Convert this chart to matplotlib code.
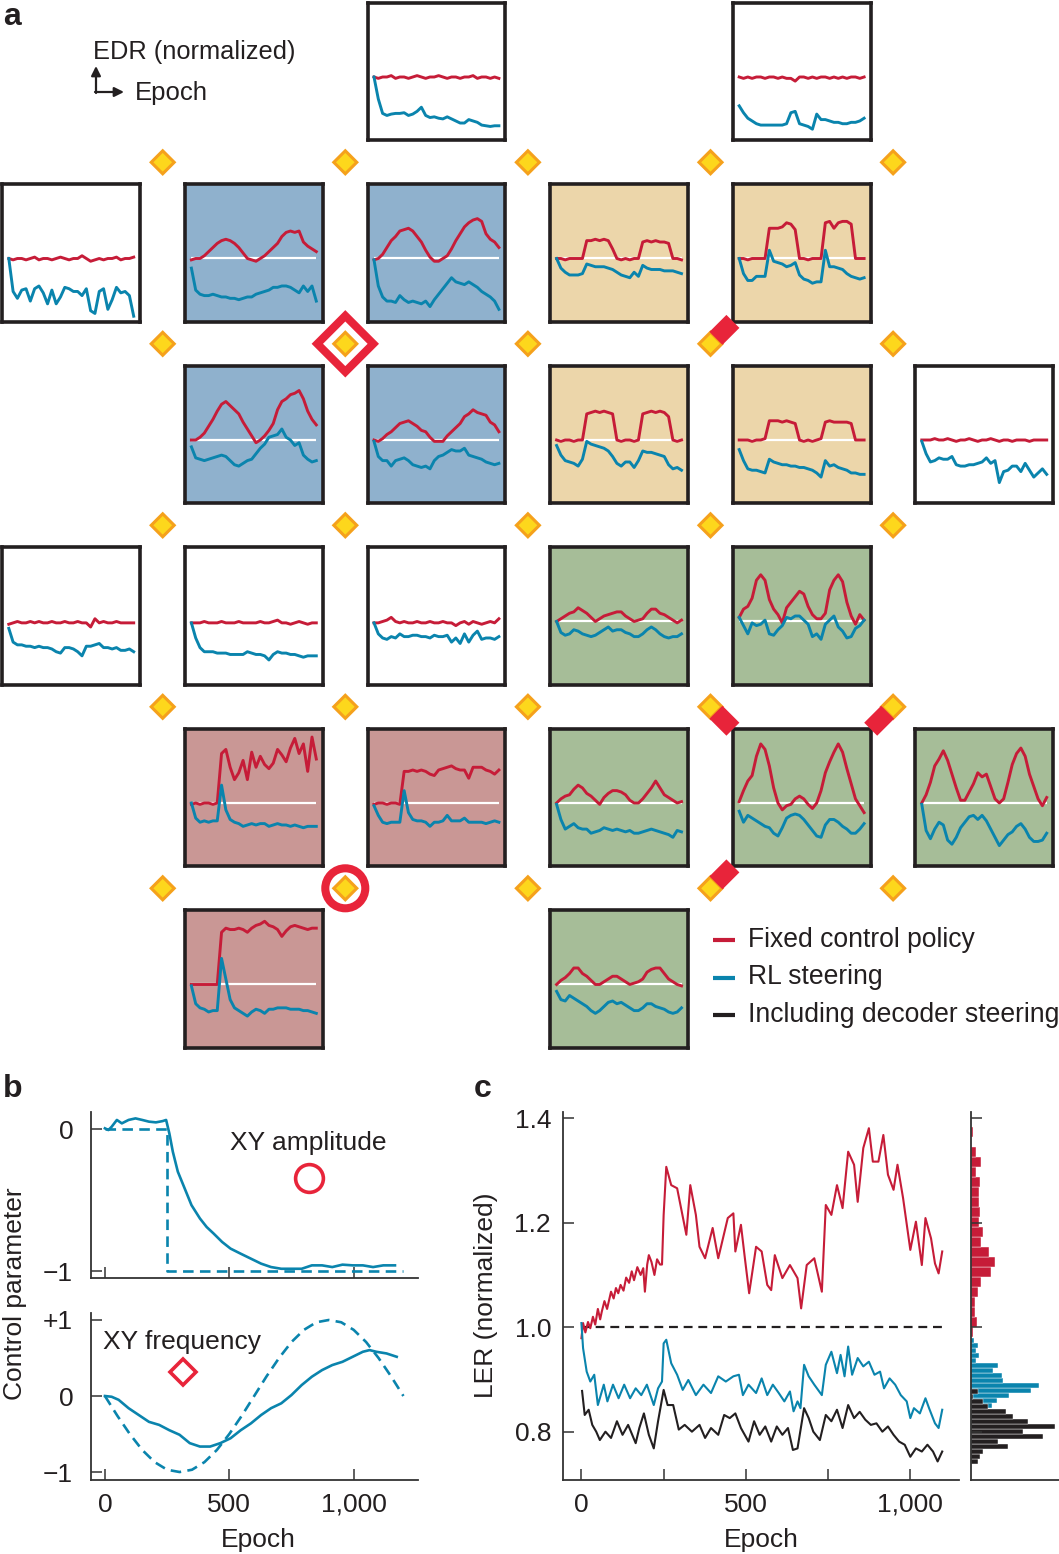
import numpy as np
import matplotlib
matplotlib.use("Agg")
import matplotlib.pyplot as plt
from matplotlib.patches import Polygon, Circle

plt.rcParams['font.family'] = ['Liberation Sans', 'DejaVu Sans']
plt.rcParams['font.size'] = 19

RED = '#c61c38'
BLUE = '#0a84ad'
BLACK = '#231f20'
MARK_RED = '#e8243a'
ORANGE = '#f5a11c'
YELLOW = '#fdd71c'
FACE = {'w': 'white', 'b': '#8fb1cd', 't': '#ecd6aa', 'g': '#a6bd98', 'p': '#c99795'}

# ---------------- panel a: EDR traces per tile (fixed policy / RL steering)
t02_red = [1.0, 0.99, 1.0, 1.0, 1.01, 0.99, 1.0, 1.0, 0.99, 1.0, 1.01, 1.0, 0.99, 1.0, 1.0, 1.01, 1.0, 0.99, 1.0, 1.0, 0.99, 1.0, 1.0, 1.01, 0.99, 1.0, 1.0, 0.99, 1.0, 0.99]
t02_rl = [1.0, 0.84, 0.735, 0.72, 0.73, 0.735, 0.735, 0.74, 0.72, 0.73, 0.75, 0.78, 0.72, 0.705, 0.71, 0.70, 0.695, 0.71, 0.695, 0.68, 0.665, 0.665, 0.69, 0.68, 0.67, 0.65, 0.645, 0.64, 0.645, 0.645]
t04_red = [1.0, 0.99, 1.0, 0.99, 1.0, 1.0, 0.99, 1.0, 1.0, 0.99, 1.0, 0.99, 0.99, 0.97, 1.0, 1.0, 0.99, 1.0, 0.99, 1.0, 1.0, 0.99, 1.0, 0.99, 1.0, 0.99, 1.0, 1.0, 0.99, 1.0]
t04_rl = [0.79, 0.74, 0.70, 0.68, 0.66, 0.65, 0.65, 0.65, 0.65, 0.65, 0.65, 0.66, 0.74, 0.75, 0.66, 0.65, 0.64, 0.62, 0.73, 0.69, 0.69, 0.68, 0.67, 0.67, 0.66, 0.66, 0.67, 0.67, 0.68, 0.70]
t10_red = [1.0, 0.99, 1.0, 1.0, 0.99, 1.0, 1.01, 0.99, 1.0, 1.0, 0.99, 1.0, 1.01, 1.0, 0.99, 1.0, 1.0, 1.02, 1.0, 0.98, 0.99, 1.0, 0.99, 1.0, 1.0, 1.01, 0.99, 1.0, 1.0, 1.01]
t10_rl = [1.0, 0.76, 0.71, 0.77, 0.78, 0.69, 0.78, 0.80, 0.75, 0.67, 0.77, 0.67, 0.72, 0.79, 0.78, 0.76, 0.76, 0.73, 0.78, 0.62, 0.60, 0.76, 0.78, 0.63, 0.70, 0.79, 0.75, 0.76, 0.73, 0.58]
t11_red = [0.99, 1.00, 1.00, 1.02, 1.05, 1.08, 1.11, 1.13, 1.14, 1.13, 1.11, 1.08, 1.04, 1.00, 0.99, 0.98, 1.00, 1.02, 1.05, 1.08, 1.11, 1.16, 1.19, 1.20, 1.19, 1.20, 1.12, 1.09, 1.07, 1.05]
t11_rl = [0.93, 0.77, 0.74, 0.73, 0.73, 0.74, 0.73, 0.72, 0.72, 0.71, 0.71, 0.70, 0.71, 0.72, 0.72, 0.74, 0.75, 0.76, 0.77, 0.79, 0.79, 0.80, 0.80, 0.79, 0.77, 0.75, 0.80, 0.76, 0.80, 0.69]
t12_red = [0.99, 1.00, 1.03, 1.08, 1.13, 1.16, 1.20, 1.21, 1.22, 1.20, 1.16, 1.12, 1.06, 1.01, 0.98, 0.98, 1.00, 1.02, 1.07, 1.13, 1.18, 1.23, 1.26, 1.28, 1.29, 1.27, 1.18, 1.14, 1.12, 1.08]
t12_rl = [0.99, 0.80, 0.72, 0.69, 0.69, 0.68, 0.73, 0.70, 0.68, 0.69, 0.68, 0.67, 0.69, 0.65, 0.70, 0.74, 0.78, 0.82, 0.86, 0.83, 0.82, 0.81, 0.83, 0.81, 0.79, 0.76, 0.74, 0.72, 0.69, 0.63]
t13_red = [1.0, 1.0, 0.99, 1.0, 1.0, 1.0, 1.0, 1.13, 1.13, 1.14, 1.13, 1.14, 1.13, 1.07, 1.0, 0.99, 1.0, 0.99, 1.0, 1.0, 1.12, 1.13, 1.12, 1.13, 1.12, 1.12, 1.11, 1.0, 1.0, 0.99]
t13_rl = [1.0, 0.93, 0.90, 0.88, 0.88, 0.88, 0.89, 0.96, 0.95, 0.94, 0.94, 0.94, 0.93, 0.92, 0.90, 0.88, 0.87, 0.86, 0.90, 0.87, 0.95, 0.93, 0.92, 0.92, 0.92, 0.91, 0.91, 0.91, 0.90, 0.89]
t14_red = [1.0, 1.0, 0.99, 1.0, 1.0, 1.0, 1.0, 1.22, 1.22, 1.22, 1.23, 1.26, 1.25, 1.21, 1.0, 1.0, 0.99, 1.0, 1.0, 1.0, 1.26, 1.27, 1.22, 1.26, 1.27, 1.27, 1.25, 1.0, 1.0, 1.0]
t14_rl = [1.0, 0.89, 0.84, 0.84, 0.87, 0.87, 0.87, 1.06, 0.98, 0.97, 0.96, 0.94, 0.95, 0.97, 0.88, 0.85, 0.84, 0.82, 0.83, 0.83, 1.06, 0.94, 0.94, 0.93, 0.92, 0.89, 0.87, 0.86, 0.85, 0.86]
t21_red = [1.0, 1.0, 1.02, 1.05, 1.10, 1.15, 1.21, 1.26, 1.28, 1.25, 1.22, 1.19, 1.13, 1.08, 1.03, 0.98, 1.0, 1.03, 1.07, 1.12, 1.22, 1.28, 1.30, 1.33, 1.34, 1.36, 1.30, 1.21, 1.15, 1.11]
t21_rl = [0.95, 0.87, 0.86, 0.85, 0.86, 0.87, 0.88, 0.89, 0.88, 0.85, 0.82, 0.81, 0.83, 0.85, 0.86, 0.90, 0.94, 0.97, 1.02, 1.03, 1.04, 1.08, 1.02, 1.00, 0.96, 0.98, 0.89, 0.86, 0.84, 0.85]
t22_red = [1.0, 0.99, 1.01, 1.04, 1.06, 1.09, 1.12, 1.13, 1.14, 1.12, 1.10, 1.07, 1.06, 1.02, 0.99, 0.99, 0.99, 1.03, 1.06, 1.09, 1.12, 1.17, 1.19, 1.22, 1.20, 1.19, 1.18, 1.13, 1.11, 1.06]
t22_rl = [0.99, 0.88, 0.85, 0.85, 0.81, 0.85, 0.86, 0.87, 0.85, 0.82, 0.81, 0.80, 0.81, 0.79, 0.85, 0.88, 0.89, 0.91, 0.93, 0.92, 0.92, 0.94, 0.89, 0.88, 0.87, 0.86, 0.84, 0.83, 0.82, 0.83]
t23_red = [1.0, 0.99, 1.0, 1.0, 0.99, 1.0, 1.0, 1.19, 1.20, 1.21, 1.20, 1.21, 1.20, 1.19, 1.0, 0.99, 1.0, 1.0, 0.99, 1.0, 1.19, 1.20, 1.21, 1.20, 1.21, 1.20, 1.17, 1.0, 0.99, 1.0]
t23_rl = [0.96, 0.89, 0.85, 0.84, 0.83, 0.81, 0.86, 0.99, 0.97, 0.96, 0.95, 0.94, 0.92, 0.88, 0.83, 0.81, 0.84, 0.84, 0.80, 0.85, 0.92, 0.91, 0.91, 0.90, 0.89, 0.88, 0.82, 0.79, 0.80, 0.78]
t24_red = [1.0, 1.0, 1.0, 0.99, 1.0, 1.0, 1.01, 1.14, 1.14, 1.14, 1.13, 1.14, 1.13, 1.12, 1.0, 0.99, 1.0, 0.99, 1.0, 1.01, 1.13, 1.14, 1.13, 1.13, 1.13, 1.13, 1.12, 1.0, 1.0, 1.0]
t24_rl = [0.93, 0.85, 0.79, 0.78, 0.78, 0.77, 0.76, 0.86, 0.84, 0.83, 0.82, 0.82, 0.81, 0.81, 0.80, 0.80, 0.79, 0.78, 0.76, 0.73, 0.85, 0.81, 0.82, 0.80, 0.79, 0.78, 0.76, 0.76, 0.75, 0.75]
t25_red = [1.0, 1.0, 1.0, 1.01, 1.0, 1.0, 1.01, 1.0, 0.99, 1.0, 1.0, 1.01, 1.0, 0.99, 1.0, 1.0, 1.01, 1.0, 0.99, 1.0, 1.0, 0.99, 1.0, 1.0, 1.0, 0.99, 1.0, 1.0, 1.0, 1.0]
t25_rl = [0.99, 0.90, 0.84, 0.85, 0.87, 0.86, 0.86, 0.88, 0.82, 0.81, 0.81, 0.82, 0.82, 0.83, 0.84, 0.87, 0.83, 0.85, 0.69, 0.77, 0.78, 0.81, 0.81, 0.77, 0.83, 0.78, 0.73, 0.76, 0.79, 0.75]
t30_red = [0.98, 0.99, 1.0, 0.99, 0.99, 1.0, 0.99, 1.0, 0.99, 0.99, 1.0, 0.99, 0.99, 1.0, 0.99, 0.99, 1.0, 0.99, 0.99, 0.96, 1.02, 0.99, 1.0, 0.99, 0.99, 1.0, 0.99, 0.99, 0.99, 0.99]
t30_rl = [0.95, 0.85, 0.83, 0.83, 0.82, 0.82, 0.81, 0.82, 0.81, 0.81, 0.80, 0.78, 0.77, 0.81, 0.81, 0.80, 0.78, 0.75, 0.82, 0.82, 0.83, 0.84, 0.81, 0.81, 0.80, 0.81, 0.79, 0.79, 0.80, 0.78]
t31_red = [0.99, 0.99, 0.99, 1.0, 0.99, 0.99, 0.99, 1.0, 0.99, 0.99, 0.99, 1.0, 0.99, 0.99, 0.99, 0.99, 1.0, 0.99, 0.99, 1.0, 1.01, 0.99, 0.99, 0.98, 0.99, 1.0, 0.99, 0.98, 0.99, 0.99]
t31_rl = [0.99, 0.88, 0.81, 0.78, 0.78, 0.78, 0.77, 0.77, 0.77, 0.76, 0.76, 0.76, 0.76, 0.78, 0.77, 0.76, 0.76, 0.75, 0.72, 0.76, 0.78, 0.77, 0.77, 0.76, 0.76, 0.75, 0.74, 0.75, 0.75, 0.75]
t32_red = [0.99, 0.99, 1.0, 1.01, 1.03, 1.0, 0.99, 1.0, 0.99, 0.99, 1.0, 0.99, 0.99, 1.0, 0.99, 0.99, 1.0, 0.99, 0.99, 0.97, 0.99, 1.0, 0.98, 1.0, 0.99, 0.98, 0.99, 1.0, 0.99, 1.02]
t32_rl = [0.99, 0.91, 0.88, 0.87, 0.89, 0.88, 0.91, 0.89, 0.89, 0.90, 0.90, 0.89, 0.89, 0.88, 0.90, 0.89, 0.89, 0.90, 0.85, 0.88, 0.84, 0.91, 0.85, 0.90, 0.93, 0.87, 0.88, 0.88, 0.87, 0.89]
t33_red = [1.0, 1.02, 1.04, 1.06, 1.07, 1.10, 1.08, 1.06, 1.03, 1.0, 1.02, 1.04, 1.05, 1.06, 1.07, 1.07, 1.04, 1.02, 1.0, 1.01, 1.02, 1.06, 1.09, 1.09, 1.06, 1.05, 1.03, 1.01, 0.99, 1.01]
t33_rl = [1.0, 0.92, 0.90, 0.91, 0.94, 0.93, 0.91, 0.90, 0.89, 0.90, 0.92, 0.94, 0.96, 0.93, 0.94, 0.94, 0.92, 0.91, 0.89, 0.89, 0.91, 0.94, 0.96, 0.94, 0.91, 0.89, 0.88, 0.89, 0.89, 0.91]
t34_red = [1.03, 1.09, 1.11, 1.17, 1.30, 1.34, 1.30, 1.16, 1.09, 1.05, 0.99, 1.10, 1.14, 1.18, 1.22, 1.20, 1.11, 1.05, 1.02, 1.02, 1.06, 1.23, 1.30, 1.34, 1.29, 1.14, 1.04, 0.98, 1.05, 1.01]
t34_rl = [1.03, 0.97, 0.91, 0.99, 0.97, 0.98, 1.01, 0.91, 0.90, 0.94, 0.97, 1.03, 1.02, 1.04, 1.04, 1.01, 0.98, 0.89, 0.91, 0.87, 0.98, 1.01, 1.04, 0.96, 0.93, 0.88, 0.89, 0.95, 0.97, 1.01]
t41_red = [0.99, 1.0, 0.99, 1.0, 1.0, 0.99, 1.0, 1.36, 1.39, 1.26, 1.17, 1.22, 1.31, 1.17, 1.37, 1.26, 1.34, 1.28, 1.25, 1.29, 1.39, 1.35, 1.30, 1.40, 1.47, 1.36, 1.43, 1.23, 1.48, 1.32]
t41_rl = [1.0, 0.89, 0.86, 0.87, 0.86, 0.87, 0.87, 1.13, 0.95, 0.88, 0.86, 0.85, 0.83, 0.84, 0.85, 0.84, 0.85, 0.85, 0.83, 0.84, 0.85, 0.84, 0.84, 0.83, 0.84, 0.83, 0.82, 0.83, 0.83, 0.83]
t42_red = [0.99, 1.0, 1.0, 0.99, 1.0, 1.0, 0.99, 1.23, 1.23, 1.24, 1.23, 1.24, 1.23, 1.21, 1.20, 1.24, 1.25, 1.26, 1.27, 1.25, 1.24, 1.24, 1.18, 1.26, 1.26, 1.26, 1.24, 1.23, 1.21, 1.24]
t42_rl = [0.98, 0.91, 0.86, 0.85, 0.86, 0.86, 0.86, 1.09, 0.93, 0.88, 0.87, 0.87, 0.86, 0.83, 0.86, 0.86, 0.87, 0.91, 0.87, 0.87, 0.87, 0.89, 0.86, 0.86, 0.86, 0.86, 0.85, 0.86, 0.87, 0.86]
t43_red = [1.0, 1.03, 1.05, 1.06, 1.10, 1.13, 1.11, 1.07, 1.05, 1.02, 0.99, 1.04, 1.07, 1.09, 1.09, 1.08, 1.06, 1.02, 1.00, 1.00, 1.03, 1.07, 1.11, 1.16, 1.11, 1.06, 1.04, 1.02, 1.0, 1.01]
t43_rl = [0.99, 0.88, 0.81, 0.83, 0.85, 0.82, 0.81, 0.81, 0.78, 0.79, 0.80, 0.82, 0.81, 0.80, 0.81, 0.80, 0.79, 0.80, 0.78, 0.78, 0.79, 0.80, 0.81, 0.80, 0.79, 0.78, 0.77, 0.75, 0.80, 0.79]
t44_red = [1.01, 1.09, 1.16, 1.20, 1.34, 1.43, 1.39, 1.27, 1.11, 1.0, 0.95, 0.98, 0.99, 1.03, 1.05, 1.03, 0.99, 0.96, 1.0, 1.09, 1.22, 1.30, 1.37, 1.43, 1.37, 1.25, 1.14, 1.03, 0.98, 0.93]
t44_rl = [0.94, 0.86, 0.91, 0.89, 0.87, 0.85, 0.83, 0.82, 0.78, 0.76, 0.82, 0.89, 0.91, 0.92, 0.91, 0.88, 0.84, 0.80, 0.76, 0.75, 0.84, 0.88, 0.88, 0.86, 0.83, 0.81, 0.78, 0.78, 0.81, 0.85]
t45_red = [1.0, 1.06, 1.15, 1.27, 1.32, 1.38, 1.31, 1.21, 1.11, 1.02, 1.02, 1.08, 1.14, 1.22, 1.19, 1.21, 1.12, 1.03, 1.0, 1.03, 1.15, 1.28, 1.36, 1.40, 1.34, 1.21, 1.12, 1.03, 0.98, 1.04]
t45_rl = [0.99, 0.80, 0.74, 0.81, 0.86, 0.84, 0.73, 0.70, 0.75, 0.82, 0.86, 0.90, 0.91, 0.88, 0.91, 0.87, 0.81, 0.75, 0.69, 0.73, 0.77, 0.79, 0.83, 0.85, 0.81, 0.75, 0.72, 0.72, 0.73, 0.78]
t51_red = [1.0, 1.0, 1.0, 1.0, 1.0, 1.0, 1.0, 1.38, 1.41, 1.40, 1.40, 1.41, 1.40, 1.38, 1.41, 1.43, 1.44, 1.46, 1.43, 1.42, 1.40, 1.35, 1.39, 1.42, 1.43, 1.42, 1.41, 1.40, 1.41, 1.41]
t51_rl = [0.99, 0.86, 0.83, 0.82, 0.80, 0.81, 0.81, 1.19, 1.04, 0.89, 0.83, 0.81, 0.79, 0.77, 0.80, 0.82, 0.81, 0.79, 0.82, 0.82, 0.83, 0.83, 0.83, 0.82, 0.82, 0.82, 0.81, 0.81, 0.80, 0.79]
t53_red = [1.0, 1.03, 1.05, 1.08, 1.12, 1.12, 1.08, 1.06, 1.03, 1.0, 1.0, 1.02, 1.04, 1.06, 1.06, 1.04, 1.02, 1.0, 1.01, 1.02, 1.04, 1.09, 1.11, 1.12, 1.12, 1.08, 1.04, 1.02, 1.0, 0.99]
t53_rl = [0.95, 0.89, 0.88, 0.92, 0.90, 0.88, 0.86, 0.84, 0.81, 0.79, 0.81, 0.84, 0.87, 0.88, 0.86, 0.87, 0.85, 0.83, 0.81, 0.81, 0.83, 0.86, 0.86, 0.84, 0.83, 0.82, 0.80, 0.79, 0.80, 0.83]

# (row, col, background, fixed policy, RL steering)
tiles = [
    (0, 2, 'w', t02_red, t02_rl), (0, 4, 'w', t04_red, t04_rl),
    (1, 0, 'w', t10_red, t10_rl), (1, 1, 'b', t11_red, t11_rl), (1, 2, 'b', t12_red, t12_rl),
    (1, 3, 't', t13_red, t13_rl), (1, 4, 't', t14_red, t14_rl),
    (2, 1, 'b', t21_red, t21_rl), (2, 2, 'b', t22_red, t22_rl), (2, 3, 't', t23_red, t23_rl),
    (2, 4, 't', t24_red, t24_rl), (2, 5, 'w', t25_red, t25_rl),
    (3, 0, 'w', t30_red, t30_rl), (3, 1, 'w', t31_red, t31_rl), (3, 2, 'w', t32_red, t32_rl),
    (3, 3, 'g', t33_red, t33_rl), (3, 4, 'g', t34_red, t34_rl),
    (4, 1, 'p', t41_red, t41_rl), (4, 2, 'p', t42_red, t42_rl), (4, 3, 'g', t43_red, t43_rl),
    (4, 4, 'g', t44_red, t44_rl), (4, 5, 'g', t45_red, t45_rl),
    (5, 1, 'p', t51_red, t51_rl), (5, 3, 'g', t53_red, t53_rl),
]

# grid markers: (gap column, gap row)
big_diamond = (2, 2)
big_circle = (2, 5)
half_marks = [(4, 2, 1, -1), (4, 4, 1, 1), (5, 4, -1, 1), (4, 5, 1, -1)]

legend_labels = ['Fixed control policy', 'RL steering', 'Including decoder steering']

# ---------------- panel b: control parameters
b_amp_epoch = [0, 14, 27, 48, 68, 95, 123, 150, 177, 205, 232, 246, 259, 273, 293, 321, 348, 382, 409, 437, 471, 505, 546, 587, 628, 668, 709, 750, 791, 832, 873, 914, 955, 996, 1037, 1078, 1119, 1166]
b_amp_val = [0.005, -0.007, 0.016, 0.064, 0.04, 0.064, 0.075, 0.064, 0.052, 0.047, 0.056, 0.064, -0.031, -0.16, -0.30, -0.42, -0.536, -0.63, -0.69, -0.736, -0.795, -0.842, -0.878, -0.913, -0.948, -0.972, -0.984, -0.984, -0.984, -0.96, -0.96, -0.972, -0.955, -0.96, -0.96, -0.972, -0.96, -0.96]
b_amp_target_epoch = [0, 248, 248, 1200]
b_amp_target = [0, 0, -1, -1]
b_freq_epoch = [0, 27, 55, 95, 136, 177, 218, 259, 300, 341, 382, 423, 464, 505, 546, 587, 628, 668, 709, 750, 791, 832, 873, 914, 955, 996, 1037, 1064, 1091, 1132, 1173]
b_freq_val = [0, -0.01, -0.05, -0.16, -0.25, -0.34, -0.38, -0.45, -0.51, -0.62, -0.665, -0.665, -0.62, -0.556, -0.45, -0.36, -0.25, -0.16, -0.096, 0.013, 0.144, 0.254, 0.341, 0.407, 0.45, 0.516, 0.582, 0.604, 0.582, 0.56, 0.516]
b_freq_target_epoch = [0, 50, 100, 150, 200, 250, 300, 350, 400, 450, 500, 550, 600, 650, 700, 750, 800, 850, 900, 950, 1000, 1050, 1100, 1150, 1200]
b_freq_target = [0, -0.26, -0.5, -0.71, -0.87, -0.97, -1.0, -0.97, -0.87, -0.71, -0.5, -0.26, 0, 0.26, 0.5, 0.71, 0.87, 0.97, 1.0, 0.97, 0.87, 0.71, 0.5, 0.26, 0.0]

# ---------------- panel c: LER traces
c_red_epoch = [0, 5, 12, 20, 27, 35, 42, 50, 57, 62, 70, 78, 90, 98, 105, 112, 119, 128, 136, 145, 153, 160, 170, 180, 188, 193, 200, 205, 213, 222, 230, 239, 245, 250, 258, 273, 291, 319, 331, 348, 359, 376, 399, 416, 445, 462, 468, 485, 497, 510, 531, 548, 565, 577, 588, 611, 634, 657, 668, 685, 708, 731, 743, 760, 777, 794, 811, 829, 840, 857, 874, 886, 903, 918, 932, 949, 961, 978, 1000, 1017, 1035, 1046, 1063, 1075, 1086, 1097]
c_red_ler = [0.979, 1.008, 0.99, 1.01, 0.998, 1.02, 1.005, 1.035, 1.015, 1.03, 1.05, 1.035, 1.068, 1.055, 1.075, 1.065, 1.081, 1.07, 1.095, 1.085, 1.107, 1.09, 1.115, 1.10, 1.113, 1.068, 1.12, 1.138, 1.125, 1.10, 1.13, 1.12, 1.12, 1.215, 1.307, 1.272, 1.266, 1.177, 1.272, 1.215, 1.154, 1.132, 1.19, 1.132, 1.209, 1.218, 1.145, 1.196, 1.132, 1.065, 1.154, 1.145, 1.081, 1.071, 1.138, 1.094, 1.119, 1.094, 1.036, 1.119, 1.132, 1.068, 1.234, 1.215, 1.272, 1.228, 1.336, 1.311, 1.24, 1.343, 1.381, 1.317, 1.317, 1.368, 1.292, 1.263, 1.311, 1.247, 1.148, 1.202, 1.119, 1.209, 1.17, 1.122, 1.103, 1.145]
c_rl_epoch = [0, 5, 16, 27, 39, 50, 68, 79, 96, 113, 130, 148, 165, 182, 199, 220, 233, 245, 250, 258, 273, 291, 308, 325, 348, 371, 394, 416, 439, 462, 479, 491, 508, 531, 548, 565, 582, 600, 617, 634, 645, 657, 666, 677, 691, 708, 731, 743, 760, 777, 788, 800, 811, 823, 840, 857, 874, 891, 908, 920, 937, 954, 971, 989, 1000, 1011, 1029, 1046, 1057, 1075, 1086, 1097]
c_rl_ler = [1.008, 0.96, 0.915, 0.896, 0.909, 0.851, 0.89, 0.858, 0.89, 0.864, 0.89, 0.864, 0.883, 0.87, 0.89, 0.851, 0.883, 0.896, 0.969, 0.976, 0.931, 0.909, 0.88, 0.899, 0.87, 0.89, 0.874, 0.906, 0.896, 0.906, 0.909, 0.87, 0.89, 0.874, 0.902, 0.87, 0.89, 0.874, 0.858, 0.877, 0.839, 0.858, 0.845, 0.928, 0.906, 0.89, 0.87, 0.928, 0.953, 0.912, 0.947, 0.906, 0.963, 0.909, 0.941, 0.925, 0.934, 0.909, 0.915, 0.883, 0.902, 0.89, 0.87, 0.858, 0.826, 0.845, 0.835, 0.864, 0.845, 0.816, 0.807, 0.842]
c_dec_epoch = [2, 10, 22, 33, 45, 56, 73, 90, 108, 125, 142, 165, 176, 190, 205, 220, 233, 250, 262, 279, 296, 314, 336, 359, 376, 394, 416, 434, 451, 468, 485, 508, 525, 542, 559, 577, 594, 611, 628, 643, 657, 677, 691, 705, 725, 743, 760, 777, 794, 811, 829, 846, 863, 880, 897, 915, 932, 949, 966, 983, 1000, 1017, 1035, 1052, 1069, 1083, 1097]
c_dec_ler = [0.878, 0.832, 0.842, 0.813, 0.80, 0.784, 0.80, 0.788, 0.82, 0.794, 0.813, 0.778, 0.807, 0.835, 0.794, 0.768, 0.82, 0.88, 0.851, 0.851, 0.804, 0.813, 0.80, 0.813, 0.788, 0.807, 0.794, 0.832, 0.826, 0.835, 0.807, 0.781, 0.82, 0.794, 0.81, 0.781, 0.81, 0.794, 0.807, 0.765, 0.768, 0.845, 0.826, 0.80, 0.784, 0.832, 0.82, 0.842, 0.807, 0.851, 0.826, 0.838, 0.823, 0.813, 0.816, 0.80, 0.81, 0.794, 0.781, 0.775, 0.752, 0.768, 0.762, 0.775, 0.762, 0.743, 0.762]

# marginal histograms (bin start, bin width, counts bottom-up)
hist_red_start, hist_red_width = 0.981, 0.0192
hist_red = [5, 19, 12, 12, 22, 30, 61, 73, 55, 30, 35, 25, 27, 23, 25, 27, 14, 30, 14, 0, 7]
hist_rl_start, hist_rl_width = 0.845, 0.0096
hist_rl = [62, 77, 114, 180, 202, 97, 92, 67, 82, 14, 25, 14, 20, 9]
hist_dec_start, hist_dec_width = 0.738, 0.0096
hist_dec = [22, 27, 37, 111, 80, 214, 154, 252, 170, 125, 104, 52, 37, 7, 22]

# ---------------- figure
W, H = 1059, 1554
fig = plt.figure(figsize=(W / 100, H / 100), dpi=100)
fig.patch.set_facecolor('white')


def box(l, t, r, b):
    return [l / W, 1 - b / H, (r - l) / W, (b - t) / H]


def col_left(c):
    return 0.5 + 182.6 * c


def row_top(r):
    return 1 + 181.5 * r


# tiles
for r, c, face, red, rl in tiles:
    l, t = col_left(c), row_top(r)
    ax = fig.add_axes(box(l + 1.8, t + 1.8, l + 141.5 - 1.8, t + 141 - 1.8))
    ax.set_facecolor(FACE[face])
    n = len(red)
    ax.hlines(1.0, 0, n - 1, color='white', lw=1.6, zorder=1)
    ax.plot(np.arange(n), red, color=RED, lw=2.1, zorder=2)
    ax.plot(np.arange(len(rl)), rl, color=BLUE, lw=2.1, zorder=3)
    ax.set_xlim(-0.052 * (n - 1), 1.052 * (n - 1))
    ax.set_ylim(0.54, 1.54)
    ax.set_xticks([])
    ax.set_yticks([])
    for s in ax.spines.values():
        s.set_linewidth(2.6)
        s.set_color(BLACK)

# overlay in pixel units for panel a annotations
ov = fig.add_axes([0, 0, 1, 1])
ov.set_xlim(0, W)
ov.set_ylim(H, 0)
ov.axis('off')
ov.set_zorder(10)


def gap_x(k):
    return col_left(k) - 20.4


def gap_y(m):
    return row_top(m) - 20.2


def diamond(cx, cy, h):
    return [(cx - h, cy), (cx, cy - h), (cx + h, cy), (cx, cy + h)]


for k in range(1, 6):
    for m in range(1, 6):
        ov.add_patch(Polygon(diamond(gap_x(k), gap_y(m), 11.5), closed=True,
                             facecolor=YELLOW, edgecolor=ORANGE, lw=2.2, zorder=3))

kx, my = big_diamond
ov.add_patch(Polygon(diamond(gap_x(kx), gap_y(my), 28), closed=True, fill=False,
                     edgecolor=MARK_RED, lw=5.8, joinstyle='miter', zorder=2))
kx, my = big_circle
ov.add_patch(Circle((gap_x(kx), gap_y(my)), 20, fill=False, edgecolor=MARK_RED, lw=5.8, zorder=2))

for k, m, sx, sy in half_marks:
    cx, cy = gap_x(k), gap_y(m)
    h, L = 13, 24
    ux, uy = sx / np.sqrt(2), sy / np.sqrt(2)
    v1 = (cx + sx * h - 1.5 * ux, cy - 1.5 * uy)
    v2 = (cx - 1.5 * ux, cy + sy * h - 1.5 * uy)
    poly = [v1, v2, (v2[0] + L * ux, v2[1] + L * uy), (v1[0] + L * ux, v1[1] + L * uy)]
    ov.add_patch(Polygon(poly, closed=True, facecolor=MARK_RED, edgecolor='none', zorder=4))

# axis key
ov.annotate('', xy=(96, 66), xytext=(96, 93),
            arrowprops=dict(arrowstyle='-|>', lw=1.6, color=BLACK, mutation_scale=14, shrinkA=0, shrinkB=0))
ov.annotate('', xy=(124, 92), xytext=(95, 92),
            arrowprops=dict(arrowstyle='-|>', lw=1.6, color=BLACK, mutation_scale=14, shrinkA=0, shrinkB=0))
ov.text(93, 52, 'EDR (normalized)', ha='left', va='center', color=BLACK, fontsize=18.3)
ov.text(135, 93, 'Epoch', ha='left', va='center', color=BLACK, fontsize=18.5)

# legend
for i, (lab, col) in enumerate(zip(legend_labels, [RED, BLUE, BLACK])):
    y = 940 + 37.5 * i
    ov.plot([713, 735], [y, y], color=col, lw=3, solid_capstyle='butt')
    ov.text(748, y, lab, ha='left', va='center', color=BLACK, fontsize=19.1)

# panel letters
for lab, x, y in [('a', 3, 25), ('b', 3, 1097), ('c', 474, 1097)]:
    ov.text(x, y, lab, ha='left', va='baseline', fontsize=23, fontweight='bold', color=BLACK)


def style(ax, ypad):
    for s in ['top', 'right']:
        ax.spines[s].set_visible(False)
    for s in ['left', 'bottom']:
        ax.spines[s].set_linewidth(1.3)
        ax.spines[s].set_color('#333333')
    ax.tick_params(direction='in', length=8, width=1.1, color='#333333', labelsize=19, labelcolor=BLACK)
    ax.tick_params(axis='y', pad=ypad)
    ax.tick_params(axis='x', pad=9)
    ax.patch.set_alpha(0)


# ---------------- panel b
axb1 = fig.add_axes(box(90.5, 1112, 417.6, 1278))
axb1.plot(b_amp_target_epoch, b_amp_target, color=BLUE, lw=1.9, ls=(0, (4, 2.4)))
axb1.plot(b_amp_epoch, b_amp_val, color=BLUE, lw=1.9)
axb1.set_xlim(-58, 1257)
axb1.set_ylim(-1.049, 0.12)
axb1.set_yticks([0, -1])
axb1.set_yticklabels(['0', '\u22121'])
axb1.set_xticks([0, 500, 1000])
axb1.set_xticklabels([])
style(axb1, 12.5)
axb1.text(503, -0.1, 'XY amplitude', ha='left', va='center', fontsize=19, color=BLACK)
axb1.plot([820], [-0.345], 'o', ms=20, mfc='none', mec=MARK_RED, mew=2.6)

axb2 = fig.add_axes(box(90.5, 1313, 417.6, 1480))
axb2.plot(b_freq_target_epoch, b_freq_target, color=BLUE, lw=1.9, ls=(0, (4, 2.4)))
axb2.plot(b_freq_epoch, b_freq_val, color=BLUE, lw=1.9)
axb2.set_xlim(-58, 1257)
axb2.set_ylim(-1.105, 1.092)
axb2.set_yticks([1, 0, -1])
axb2.set_yticklabels(['+1', '0', '\u22121'])
axb2.set_xticks([0, 500, 1000])
axb2.set_xticklabels(['0', '500', '1,000'])
style(axb2, 12.5)
axb2.text(-8, 0.71, 'XY frequency', ha='left', va='center', fontsize=19, color=BLACK)
axb2.plot([314], [0.316], 'D', ms=13.5, mfc='none', mec=MARK_RED, mew=2.6)

fig.text(15 / W, 1 - 1294 / H, 'Control parameter', rotation=90, ha='center', va='center', fontsize=19, color=BLACK)
fig.text(258 / W, 1 - 1540 / H, 'Epoch', ha='center', va='center', fontsize=19, color=BLACK)

# ---------------- panel c
axc = fig.add_axes(box(563, 1112, 959, 1480))
axc.hlines(1.0, 0, 1097, colors=BLACK, lw=1.6, linestyles=(0, (4, 2.6)))
axc.plot(c_red_epoch, c_red_ler, color=RED, lw=1.5)
axc.plot(c_rl_epoch, c_rl_ler, color=BLUE, lw=1.5)
axc.plot(c_dec_epoch, c_dec_ler, color=BLACK, lw=1.5)
axc.set_xlim(-56, 1148)
axc.set_ylim(0.7075, 1.412)
axc.set_xticks([0, 250, 500, 750, 1000])
axc.set_xticklabels(['0', '', '500', '', '1,000'])
axc.set_yticks([0.8, 1.0, 1.2, 1.4])
axc.set_yticklabels(['0.8', '1.0', '1.2', '1.4'])
style(axc, 8.6)
fig.text(486 / W, 1 - 1295 / H, 'LER (normalized)', rotation=90, ha='center', va='center', fontsize=19, color=BLACK)
fig.text(761 / W, 1 - 1540 / H, 'Epoch', ha='center', va='center', fontsize=19, color=BLACK)

axh = fig.add_axes(box(971, 1112, 1059, 1480))
for start, width, counts, col in [(hist_red_start, hist_red_width, hist_red, RED),
                                  (hist_rl_start, hist_rl_width, hist_rl, BLUE),
                                  (hist_dec_start, hist_dec_width, hist_dec, BLACK)]:
    edges = start + width * np.arange(len(counts))
    axh.barh(edges, counts, height=width, align='edge', color=col, edgecolor='white', lw=0.3)
axh.set_ylim(0.7075, 1.412)
axh.set_xlim(0, 263)
axh.set_yticks([0.8, 1.0, 1.2, 1.4])
axh.set_yticklabels([])
axh.set_xticks([])
style(axh, 8.6)

fig.savefig('out.png', dpi=100)
